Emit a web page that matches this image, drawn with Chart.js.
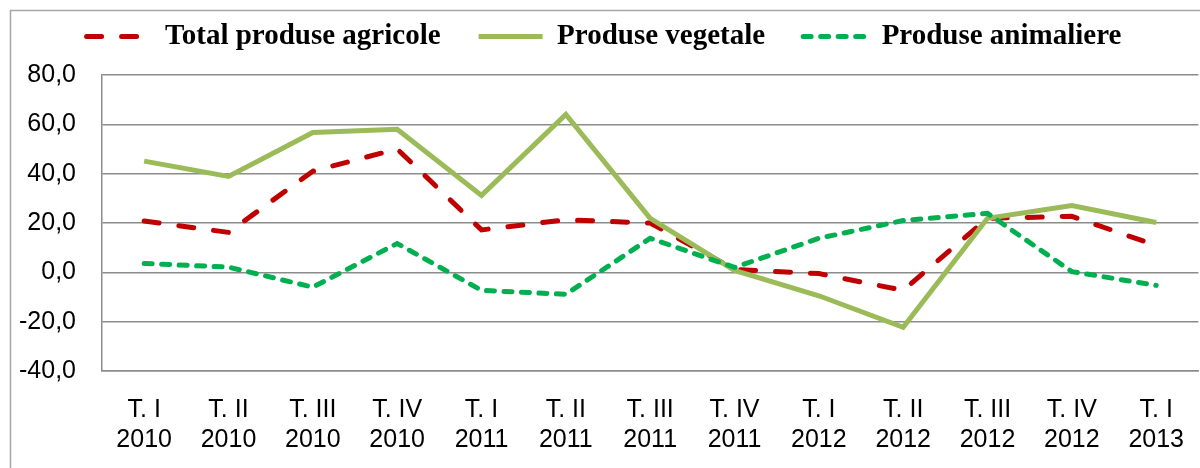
<!DOCTYPE html>
<html>
<head>
<meta charset="utf-8">
<script src="https://cdn.jsdelivr.net/npm/chart.js@4.4.1/dist/chart.umd.min.js"></script>
<style>
  html, body { margin: 0; padding: 0; overflow: hidden; background: #fff; }
  #wrap { position: relative; width: 1208px; height: 468px; }
</style>
</head>
<body>
<div id="wrap"><canvas id="chart"></canvas></div>
<script>
// quarters (two-line labels)
const categories = [
  ['T. I', '2010'], ['T. II', '2010'], ['T. III', '2010'], ['T. IV', '2010'],
  ['T. I', '2011'], ['T. II', '2011'], ['T. III', '2011'], ['T. IV', '2011'],
  ['T. I', '2012'], ['T. II', '2012'], ['T. III', '2012'], ['T. IV', '2012'],
  ['T. I', '2013']
];

const totalAgricole = [20.8, 16.2, 41.0, 50.0, 17.2, 21.3, 20.0, 1.2, -0.5, -7.3, 21.9, 22.7, 10.9];
const produseVegetale = [45.1, 38.9, 56.7, 58.0, 31.2, 64.0, 21.9, 0.8, -9.5, -22.3, 21.9, 27.1, 20.2];
const produseAnimaliere = [3.6, 2.1, -6.0, 11.7, -7.3, -8.9, 13.8, 2.0, 13.8, 21.0, 23.9, 0.3, -5.3];

const yTicks = [-40, -20, 0, 20, 40, 60, 80];

const seriesNames = ['Total produse agricole', 'Produse vegetale', 'Produse animaliere'];

// outer frame like the Excel chart area border
const framePlugin = {
  id: 'frame',
  beforeDraw(chart) {
    const ctx = chart.ctx;
    ctx.save();
    ctx.strokeStyle = '#a6a6a6';
    ctx.lineWidth = 1.5;
    ctx.beginPath();
    ctx.moveTo(10.5, chart.height + 5);
    ctx.lineTo(10.5, 10.5);
    ctx.lineTo(chart.width + 5, 10.5);
    ctx.stroke();
    ctx.restore();
  }
};

// legend samples take the dataset line style (dash, width, cap)
function legendLabels(chart) {
  const items = Chart.defaults.plugins.legend.labels.generateLabels(chart);
  items.forEach(it => {
    const ds = chart.data.datasets[it.datasetIndex];
    it.strokeStyle = ds.borderColor;
    it.lineWidth = ds.borderWidth;
    it.lineDash = ds.borderDash || [];
    it.lineCap = ds.borderCapStyle || 'butt';
    it.pointStyle = 'line';
  });
  return items.sort((a, b) => a.datasetIndex - b.datasetIndex);
}

new Chart(document.getElementById('chart'), {
  type: 'line',
  data: {
    labels: categories,
    datasets: [
      {
        label: seriesNames[0],
        data: totalAgricole,
        borderColor: '#c00000',
        backgroundColor: '#c00000',
        borderWidth: 5,
        borderDash: [15, 20],
        borderCapStyle: 'round',
        order: 3
      },
      {
        label: seriesNames[1],
        data: produseVegetale,
        borderColor: '#9bbb59',
        backgroundColor: '#9bbb59',
        borderWidth: 5,
        order: 2
      },
      {
        label: seriesNames[2],
        data: produseAnimaliere,
        borderColor: '#00b050',
        backgroundColor: '#00b050',
        borderWidth: 5,
        borderDash: [8, 9.5],
        borderCapStyle: 'round',
        order: 1
      }
    ]
  },
  options: {
    responsive: true,
    maintainAspectRatio: false,
    animation: false,
    devicePixelRatio: 1,
    elements: {
      point: { radius: 0, hoverRadius: 0 },
      line: { tension: 0, borderJoinStyle: 'miter' }
    },
    layout: { padding: { left: 0, right: 0, top: -16, bottom: 0 } },
    plugins: {
      tooltip: { enabled: false },
      // blank spacer box between legend and plot (weight below the legend's)
      title: {
        display: true,
        text: ' ',
        weight: 500,
        padding: { top: 1, bottom: 1 },
        font: { size: 10, lineHeight: 1.2 }
      },
      legend: {
        position: 'top',
        labels: {
          usePointStyle: true,
          pointStyle: 'line',
          pointStyleWidth: 64,
          padding: 38,
          color: '#000',
          generateLabels: legendLabels,
          font: { family: "'Liberation Serif', 'DejaVu Serif', serif", size: 29, weight: 'bold' }
        }
      }
    },
    scales: {
      x: {
        offset: true,
        grid: { display: false, drawTicks: false },
        border: { display: true, color: '#8c8c8c', width: 1.5 },
        ticks: {
          color: '#000',
          padding: 24,
          maxRotation: 0,
          autoSkip: false,
          font: { family: "'Liberation Sans', 'Noto Sans', sans-serif", size: 25, lineHeight: 1.2 }
        },
        afterFit(scale) { scale.height = 97; }
      },
      y: {
        min: -40,
        max: 80,
        afterBuildTicks(scale) { scale.ticks = yTicks.map(v => ({ value: v })); },
        grid: { color: '#8c8c8c', lineWidth: 1.5, drawTicks: false },
        border: { display: true, color: '#8c8c8c', width: 1.5 },
        ticks: {
          color: '#000',
          padding: 26,
          font: { family: "'Liberation Sans', 'Noto Sans', sans-serif", size: 25 },
          callback: v => v.toFixed(1).replace('.', ',')
        },
        afterFit(scale) { scale.width = 102; }
      }
    }
  },
  plugins: [framePlugin]
});
</script>
</body>
</html>
